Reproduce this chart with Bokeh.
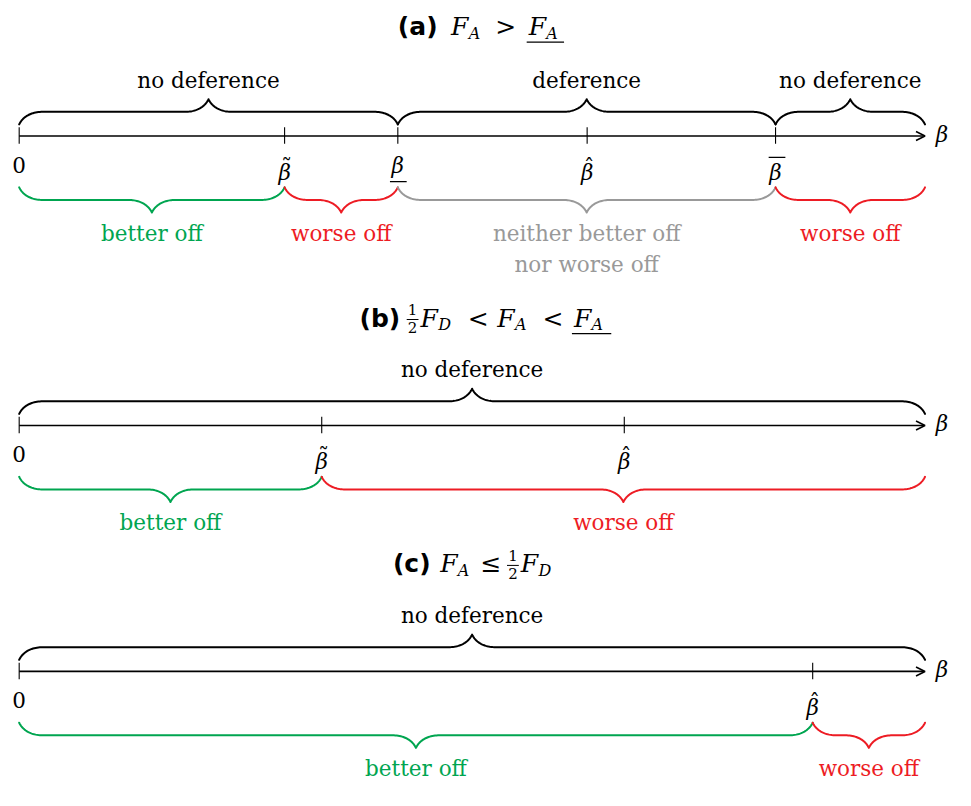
import numpy as np
from bokeh.plotting import figure
from bokeh.models import Range1d, Arrow, OpenHead
from bokeh.embed import file_html
from bokeh.resources import INLINE
from bokeh.core.properties import value

# ---------------- data ----------------
GREEN, RED, GRAY, BLACK = "#00A550", "#ED1C24", "#999999", "#000000"

# panel (a)
a_tick_pos = [0.0, 0.293, 0.418, 0.627, 0.835]
a_tick_kind = ["zero", "tilde", "under", "hat", "bar"]
a_top_start = [0.0, 0.418, 0.835]
a_top_end = [0.418, 0.835, 1.0]
a_top_labels = ["no deference", "deference", "no deference"]
a_bot_start = [0.0, 0.293, 0.418, 0.835]
a_bot_end = [0.293, 0.418, 0.835, 1.0]
a_bot_labels = ["better off", "worse off", "neither better off\nnor worse off", "worse off"]
a_bot_colors = [GREEN, RED, GRAY, RED]

# panel (b)
b_tick_pos = [0.0, 0.334, 0.668]
b_tick_kind = ["zero", "tilde", "hat"]
b_top_start = [0.0]
b_top_end = [1.0]
b_top_labels = ["no deference"]
b_bot_start = [0.0, 0.334]
b_bot_end = [0.334, 1.0]
b_bot_labels = ["better off", "worse off"]
b_bot_colors = [GREEN, RED]

# panel (c)
c_tick_pos = [0.0, 0.876]
c_tick_kind = ["zero", "hat"]
c_top_start = [0.0]
c_top_end = [1.0]
c_top_labels = ["no deference"]
c_bot_start = [0.0, 0.876]
c_bot_end = [0.876, 1.0]
c_bot_labels = ["better off", "worse off"]
c_bot_colors = [GREEN, RED]

# ---------------- layout ----------------
AX0_PX, AX1_PX = 19, 940
SCALE = AX1_PX - AX0_PX


def bx(px):
    return (px - AX0_PX) / SCALE


W, H = 955, 790
p = figure(width=W, height=H, output_backend="svg", toolbar_location=None,
           x_range=Range1d(bx(0), bx(971)), y_range=Range1d(816, 0),
           x_axis_location=None, y_axis_location=None, min_border=0,
           title=None)
p.grid.visible = False
p.outline_line_color = None
p.background_fill_color = "white"
p.border_fill_color = "white"

SERIF = value("DejaVu Serif")
SANS = value("DejaVu Sans")
FS = 21.5
K_SHIFT = 0.4  # baseline correction (fraction of font size)

A_PX = 26
AH = 24 / SCALE


def bez(p0, p1, p2, p3, n=24):
    t = np.linspace(0, 1, n)[:, None]
    return ((1 - t) ** 3) * p0 + 3 * ((1 - t) ** 2) * t * p1 + 3 * (1 - t) * t ** 2 * p2 + t ** 3 * p3


def brace(x0, x1, y0, d):
    a = AH
    A = A_PX * d
    xm = (x0 + x1) / 2
    P = lambda x, y: np.array([x, y])
    segs = [bez(P(x0, y0), P(x0 + .15 * a, y0 + .3 * A), P(x0 + .5 * a, y0 + .5 * A), P(x0 + a, y0 + .5 * A)),
            bez(P(xm - a, y0 + .5 * A), P(xm - .5 * a, y0 + .5 * A), P(xm - .15 * a, y0 + .7 * A), P(xm, y0 + A)),
            bez(P(xm, y0 + A), P(xm + .15 * a, y0 + .7 * A), P(xm + .5 * a, y0 + .5 * A), P(xm + a, y0 + .5 * A)),
            bez(P(x1 - a, y0 + .5 * A), P(x1 - .5 * a, y0 + .5 * A), P(x1 - .15 * a, y0 + .3 * A), P(x1, y0))]
    pts = np.vstack(segs)
    return list(pts[:, 0]), list(pts[:, 1])


def txt(x, y, s, font=SERIF, style="normal", size=FS, align="center", color=BLACK):
    p.text(x=[x], y=[y - K_SHIFT * size], text=[s], text_font=font, text_font_style=style,
           text_font_size=f"{size}px", text_align=align, text_baseline="alphabetic",
           text_color=color)


def panel(ay, ticks, kinds, ts, te, tl, bs, be, bl, bc):
    # axis arrow
    p.add_layout(Arrow(end=OpenHead(size=9, line_width=1.6, line_color=BLACK),
                       x_start=0.0, y_start=ay, x_end=1.0, y_end=ay,
                       line_width=1.6, line_color=BLACK))
    txt(bx(951), ay + 7, "β", style="italic", align="left")
    # ticks
    p.segment(x0=ticks, y0=[ay - 9] * len(ticks), x1=ticks, y1=[ay + 8] * len(ticks),
              line_color=BLACK, line_width=1.1)
    # tick labels
    for x, k in zip(ticks, kinds):
        if k == "zero":
            txt(x, ay + 38, "0")
            continue
        yb = ay + 39 if k == "under" else ay + 46
        txt(x, yb, "β", style="italic")
        if k == "tilde":
            txt(x + 2 / SCALE, ay + 41, "˜", style="normal")
        if k == "hat":
            txt(x + 2 / SCALE, ay + 41, "ˆ", style="normal")
        if k == "under":
            p.segment(x0=[x - 8 / SCALE], y0=[ay + 47], x1=[x + 9 / SCALE], y1=[ay + 47],
                      line_color=BLACK, line_width=1.2)
        if k == "bar":
            p.segment(x0=[x - 7 / SCALE], y0=[ay + 22], x1=[x + 10 / SCALE], y1=[ay + 22],
                      line_color=BLACK, line_width=1.2)
    # top braces
    xs, ys = [], []
    for s, e in zip(ts, te):
        x_, y_ = brace(s, e, ay - 12, -1)
        xs.append(x_)
        ys.append(y_)
    p.multi_line(xs, ys, line_color=BLACK, line_width=2, line_join="round", line_cap="round")
    for s, e, lab in zip(ts, te, tl):
        txt((s + e) / 2, ay - 49, lab)
    # bottom braces
    xs, ys = [], []
    for s, e in zip(bs, be):
        x_, y_ = brace(s, e, ay + 53, 1)
        xs.append(x_)
        ys.append(y_)
    p.multi_line(xs, ys, line_color=bc, line_width=2, line_join="round", line_cap="round")
    for s, e, lab, c in zip(bs, be, bl, bc):
        for i, line in enumerate(lab.split("\n")):
            txt((s + e) / 2, ay + 109 + 32 * i, line, color=c)


panel(140, a_tick_pos, a_tick_kind, a_top_start, a_top_end, a_top_labels,
      a_bot_start, a_bot_end, a_bot_labels, a_bot_colors)
panel(439, b_tick_pos, b_tick_kind, b_top_start, b_top_end, b_top_labels,
      b_bot_start, b_bot_end, b_bot_labels, b_bot_colors)
panel(693, c_tick_pos, c_tick_kind, c_top_start, c_top_end, c_top_labels,
      c_bot_start, c_bot_end, c_bot_labels, c_bot_colors)


# ---------------- titles ----------------
def piece(s, xpx, ypx, kind="math", size=25, align="left"):
    if kind == "bold":
        font, style = SANS, "bold"
    elif kind == "math":
        font, style = SERIF, "italic"
    else:
        font, style = SERIF, "normal"
    txt(bx(xpx), ypx, s, font=font, style=style, size=size, align=align)


def hline(x0px, x1px, ypx, w=1.2):
    p.segment(x0=[bx(x0px)], y0=[ypx], x1=[bx(x1px)], y1=[ypx], line_color=BLACK, line_width=w)


def frac(cx, yb):
    piece("1", cx, yb - 13, "rm", 15, "center")
    hline(cx - 6, cx + 6, yb - 8.5, 1.0)
    piece("2", cx, yb + 6, "rm", 15, "center")


SUB = 16
# (a)
ya = 37
piece("(a)", 404, ya, "bold", 25)
piece("F", 458, ya)
piece("A", 476, ya + 3, "math", SUB)
piece(">", 503, ya, "rm", 25)
piece("F", 537, ya)
piece("A", 555, ya + 3, "math", SUB)
hline(535, 573, ya + 6)

# (b)
yb_ = 338
piece("(b)", 365, yb_, "bold", 25)
frac(419, yb_)
piece("F", 427, yb_)
piece("D", 445, yb_ + 3, "math", SUB)
piece("<", 475, yb_, "rm", 25)
piece("F", 505, yb_)
piece("A", 523, yb_ + 3, "math", SUB)
piece("<", 551, yb_, "rm", 25)
piece("F", 583, yb_)
piece("A", 601, yb_ + 3, "math", SUB)
hline(581, 621, yb_ + 6)

# (c)
yc = 592
piece("(c)", 399, yc, "bold", 25)
piece("F", 447, yc)
piece("A", 465, yc + 3, "math", SUB)
piece("≤", 488, yc, "rm", 25)
frac(521, yc)
piece("F", 529, yc)
piece("D", 547, yc + 3, "math", SUB)

open("out.html", "w").write(file_html(p, INLINE))
